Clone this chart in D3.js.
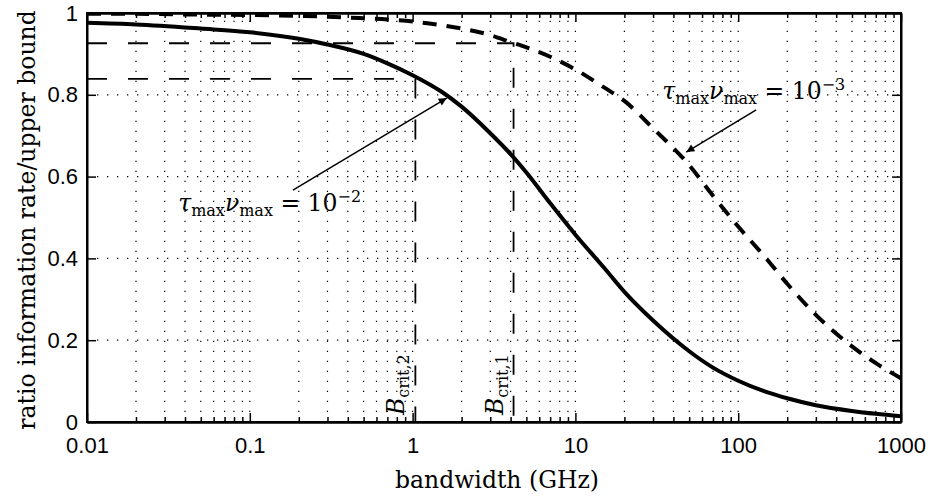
<!DOCTYPE html>
<html>
<head>
<meta charset="utf-8">
<script src="https://cdn.jsdelivr.net/npm/d3@7"></script>
<style>
  body { margin: 0; background: #fff; }
  svg { display: block; }
  .tick text { font-family: "Liberation Sans", Arial, sans-serif; font-size: 22px; fill: #000; }
  .serif { font-family: "DejaVu Serif", serif; font-size: 23.5px; fill: #000; }
</style>
</head>
<body>
<svg id="chart"></svg>
<script>
// values
const bandwidth = [0.01, 0.02, 0.05, 0.1, 0.2, 0.3, 0.5, 0.7, 1, 1.5, 2, 3, 4, 5, 7, 10, 15, 20, 30, 50, 70, 100, 150, 200, 300, 500, 700, 1000];
const rateSolid = [0.976, 0.972, 0.962, 0.953, 0.937, 0.923, 0.900, 0.877, 0.848, 0.808, 0.771, 0.706, 0.655, 0.610, 0.535, 0.458, 0.377, 0.318, 0.248, 0.173, 0.133, 0.101, 0.073, 0.058, 0.041, 0.027, 0.020, 0.014];
const rateDashed = [0.998, 0.998, 0.996, 0.995, 0.993, 0.991, 0.987, 0.984, 0.979, 0.970, 0.962, 0.946, 0.929, 0.916, 0.893, 0.862, 0.818, 0.785, 0.718, 0.628, 0.553, 0.478, 0.398, 0.338, 0.262, 0.185, 0.144, 0.107];

const xTickValues = [0.01, 0.1, 1, 10, 100, 1000];
const xTickLabels = ['0.01', '0.1', '1', '10', '100', '1000'];
const yTickValues = [0, 0.2, 0.4, 0.6, 0.8, 1];
const yTickLabels = ['0', '0.2', '0.4', '0.6', '0.8', '1'];

// critical bandwidths and the rate level where they are read
const critB = [1.04, 4.17];
const critRate = [0.839, 0.926];
const critNames = ['crit,2', 'crit,1'];

const width = 931, height = 502;
const pLeft = 87, pRight = 901, pTop = 13, pBottom = 422;

const svg = d3.select('#chart')
    .attr('width', width)
    .attr('height', height);

const x = d3.scaleLog().domain([0.01, 1000]).range([pLeft, pRight]);
const y = d3.scaleLinear().domain([0, 1]).range([pBottom, pTop]);

// dotted grid, major + minor on the log axis
const gridX = x.ticks().filter(d => d > 0.011 && d < 990);
svg.append('g')
    .selectAll('line')
    .data(gridX)
    .enter()
    .append('line')
    .attr('x1', d => x(d)).attr('x2', d => x(d))
    .attr('y1', pBottom).attr('y2', pTop)
    .attr('stroke', '#000')
    .attr('stroke-width', 1.2)
    .attr('stroke-dasharray', '1.3,8.7');

svg.append('g')
    .selectAll('line')
    .data(yTickValues.slice(1, -1))
    .enter()
    .append('line')
    .attr('x1', pLeft).attr('x2', pRight)
    .attr('y1', d => y(d)).attr('y2', d => y(d))
    .attr('stroke', '#000')
    .attr('stroke-width', 1.2)
    .attr('stroke-dasharray', '1.3,8.7');

svg.append('clipPath').attr('id', 'plot')
    .append('rect')
    .attr('x', pLeft).attr('y', pTop)
    .attr('width', pRight - pLeft).attr('height', pBottom - pTop);

// critical bandwidth guides
critB.forEach((b, i) => {
    svg.append('path')
        .attr('d', d3.line()([[x(0.01), y(critRate[i])], [x(b), y(critRate[i])], [x(b), y(0)]]))
        .attr('fill', 'none')
        .attr('stroke', '#000')
        .attr('stroke-width', 1.8)
        .attr('stroke-dasharray', '20,21');
});

const line = d3.line()
    .x(d => x(d[0]))
    .y(d => y(d[1]))
    .curve(d3.curveMonotoneX);

const curves = svg.append('g').attr('clip-path', 'url(#plot)');
curves.append('path')
    .datum(d3.zip(bandwidth, rateSolid))
    .attr('d', line)
    .attr('fill', 'none')
    .attr('stroke', '#000')
    .attr('stroke-width', 4);
curves.append('path')
    .datum(d3.zip(bandwidth, rateDashed))
    .attr('d', line)
    .attr('fill', 'none')
    .attr('stroke', '#000')
    .attr('stroke-width', 4)
    .attr('stroke-dasharray', '14,10');

// axes, ticks pointing inwards on all four sides
const minorX = gridX.filter(d => xTickValues.indexOf(+d.toPrecision(6)) < 0);
const none = () => '';

svg.append('g')
    .attr('transform', `translate(0,${pBottom})`)
    .call(d3.axisBottom(x).tickValues(xTickValues).tickFormat((d, i) => xTickLabels[i])
        .tickSize(-9).tickSizeOuter(0).tickPadding(15));
svg.append('g')
    .attr('transform', `translate(0,${pBottom})`)
    .call(d3.axisBottom(x).tickValues(minorX).tickFormat(none).tickSize(-5).tickSizeOuter(0));
svg.append('g')
    .attr('transform', `translate(0,${pTop})`)
    .call(d3.axisTop(x).tickValues(xTickValues).tickFormat(none).tickSize(-9).tickSizeOuter(0));
svg.append('g')
    .attr('transform', `translate(0,${pTop})`)
    .call(d3.axisTop(x).tickValues(minorX).tickFormat(none).tickSize(-5).tickSizeOuter(0));
svg.append('g')
    .attr('transform', `translate(${pLeft},0)`)
    .call(d3.axisLeft(y).tickValues(yTickValues).tickFormat((d, i) => yTickLabels[i])
        .tickSize(-9).tickSizeOuter(0).tickPadding(9));
svg.append('g')
    .attr('transform', `translate(${pRight},0)`)
    .call(d3.axisRight(y).tickValues(yTickValues).tickFormat(none).tickSize(-9).tickSizeOuter(0));

svg.selectAll('.domain').attr('stroke', '#000').attr('stroke-width', 2);
svg.selectAll('.tick line').attr('stroke', '#000').attr('stroke-width', 1.5);

svg.append('rect')
    .attr('x', pLeft).attr('y', pTop)
    .attr('width', pRight - pLeft).attr('height', pBottom - pTop)
    .attr('fill', 'none')
    .attr('stroke', '#000')
    .attr('stroke-width', 2);

// axis titles
svg.append('text')
    .attr('class', 'serif')
    .attr('x', (pLeft + pRight) / 2 + 3)
    .attr('y', 488)
    .attr('text-anchor', 'middle')
    .text('bandwidth (GHz)');

svg.append('text')
    .attr('class', 'serif')
    .attr('transform', 'translate(35,220) rotate(-90)')
    .attr('text-anchor', 'middle')
    .text('ratio information rate/upper bound');

// B_crit labels
critB.forEach((b, i) => {
    const t = svg.append('text')
        .attr('class', 'serif')
        .attr('transform', `translate(${x(b) - 11},415) rotate(-90)`);
    t.append('tspan').style('font-style', 'italic').text('B');
    t.append('tspan').attr('dy', 5).style('font-size', '16px').text(critNames[i]);
});

// annotations with arrows
svg.append('defs').append('marker')
    .attr('id', 'arrow')
    .attr('viewBox', '0 0 10 10')
    .attr('refX', 10).attr('refY', 5)
    .attr('markerUnits', 'userSpaceOnUse')
    .attr('markerWidth', 13).attr('markerHeight', 8)
    .attr('orient', 'auto')
    .append('path')
    .attr('d', 'M0,0L10,5L0,10z')
    .attr('fill', '#000');

const notes = [
    {exp: '2', text: [0.0363, 0.516], tail: [0.184, 0.567], tip: [1.62, 0.792]},
    {exp: '3', text: [34.2, 0.79], tail: [129, 0.763], tip: [48, 0.66]}
];

notes.forEach(n => {
    svg.append('line')
        .attr('x1', x(n.tail[0])).attr('y1', y(n.tail[1]))
        .attr('x2', x(n.tip[0])).attr('y2', y(n.tip[1]))
        .attr('stroke', '#000')
        .attr('stroke-width', 1.5)
        .attr('marker-end', 'url(#arrow)');

    const t = svg.append('text')
        .attr('class', 'serif')
        .attr('x', x(n.text[0]))
        .attr('y', y(n.text[1]));
    t.append('tspan').style('font-style', 'italic').text('τ');
    t.append('tspan').attr('dy', 5).style('font-size', '16px').text('max');
    t.append('tspan').attr('dy', -5).style('font-style', 'italic').text('ν');
    t.append('tspan').attr('dy', 5).style('font-size', '16px').text('max');
    t.append('tspan').attr('dy', -5).text(' = 10');
    t.append('tspan').attr('dy', -9).style('font-size', '16px').text('−' + n.exp);
});
</script>
</body>
</html>
